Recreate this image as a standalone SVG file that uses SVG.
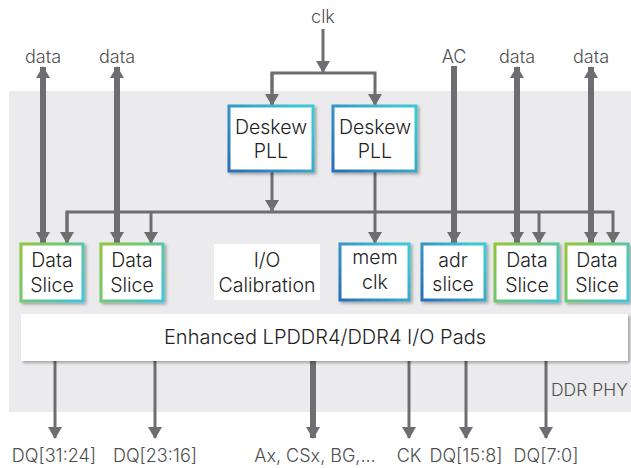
<svg xmlns="http://www.w3.org/2000/svg" width="631" height="468" viewBox="0 0 631 468">
<style>
.t{font-family:Inter,"Noto Sans","Liberation Sans",sans-serif;font-size:19.5px;font-weight:300;fill:#222;text-anchor:middle}
.lbl{font-family:Inter,"Noto Sans","Liberation Sans",sans-serif;font-size:18px;font-weight:300;fill:#4d4e50;text-anchor:middle}
.thin{stroke:#6d6e71;stroke-width:3;fill:none}
.thick{stroke:#6d6e71;stroke-width:6;fill:none}
.box{fill:#fff;stroke-width:3}
.b{stroke:url(#gb)}
.g{stroke:url(#gg)}
</style>
<defs>
<linearGradient id="gb" x1="0" y1="1" x2="1" y2="0.3">
<stop offset="0" stop-color="#2a6db7"/><stop offset="1" stop-color="#3ec6d3"/>
</linearGradient>
<linearGradient id="gg" x1="0" y1="0.2" x2="1" y2="0.8">
<stop offset="0" stop-color="#8dc63f"/><stop offset="1" stop-color="#3ec6d3"/>
</linearGradient>
<filter id="sh" x="-20%" y="-20%" width="150%" height="150%">
<feDropShadow dx="2" dy="2" stdDeviation="1.5" flood-color="#000" flood-opacity="0.3"/>
</filter>
<marker id="ah" markerUnits="userSpaceOnUse" markerWidth="14" markerHeight="14" viewBox="0 -7 12 14" refX="11" refY="0" orient="auto-start-reverse">
<path d="M0,-7 L12,0 L0,7 z" fill="#6d6e71"/>
</marker>
</defs>
<rect x="9" y="91" width="622" height="321" fill="#ebebed"/>
<text class="lbl" x="551" y="396" style="text-anchor:start;font-size:17.5px">DDR PHY</text>

<g id="connectors">
<path class="thin" d="M323,29 V72" marker-end="url(#ah)"/>
<path class="thin" d="M272,105 V73 H375 V105" marker-end="url(#ah)"/>
<path class="thin" d="M272,73 V105" marker-end="url(#ah)"/>
<path class="thin" d="M272,171 V211" marker-end="url(#ah)"/>
<path class="thin" d="M67,243 V212 H613 V243" marker-end="url(#ah)"/>
<path class="thin" d="M67,212 V243" marker-end="url(#ah)"/>
<path class="thin" d="M151,212 V243" marker-end="url(#ah)"/>
<path class="thin" d="M539,212 V243" marker-end="url(#ah)"/>
<path class="thin" d="M375,171 V243" marker-end="url(#ah)"/>
<path class="thick" d="M43,67 V243" marker-start="url(#ah)" marker-end="url(#ah)"/>
<path class="thick" d="M117,67 V243" marker-start="url(#ah)" marker-end="url(#ah)"/>
<path class="thick" d="M517,67 V243" marker-start="url(#ah)" marker-end="url(#ah)"/>
<path class="thick" d="M591,67 V243" marker-start="url(#ah)" marker-end="url(#ah)"/>
<path class="thick" d="M454,66 V243" marker-end="url(#ah)"/>
<path class="thin" d="M55,361 V438" marker-end="url(#ah)"/>
<path class="thin" d="M155,361 V438" marker-end="url(#ah)"/>
<path class="thick" d="M313,361 V438" marker-end="url(#ah)"/>
<path class="thin" d="M409,361 V438" marker-end="url(#ah)"/>
<path class="thin" d="M466,361 V438" marker-end="url(#ah)"/>
<path class="thin" d="M546,361 V438" marker-end="url(#ah)"/>
</g>

<g id="labels">
<text class="lbl" x="323" y="23">clk</text>
<text class="lbl" x="43" y="63">data</text>
<text class="lbl" x="117" y="63">data</text>
<text class="lbl" x="454" y="63">AC</text>
<text class="lbl" x="517" y="63">data</text>
<text class="lbl" x="591" y="63">data</text>
<text class="lbl" x="54" y="462">DQ[31:24]</text>
<text class="lbl" x="155" y="462">DQ[23:16]</text>
<text class="lbl" x="315" y="462">Ax, CSx, BG,...</text>
<text class="lbl" x="409" y="462">CK</text>
<text class="lbl" x="466" y="462">DQ[15:8]</text>
<text class="lbl" x="546" y="462">DQ[7:0]</text>
</g>

<g id="pll1"><rect class="box b" x="229" y="106" width="84" height="65" filter="url(#sh)"/><text class="t" x="271" y="134">Deskew</text><text class="t" x="271" y="158">PLL</text></g>
<g id="pll2"><rect class="box b" x="333" y="106" width="83" height="65" filter="url(#sh)"/><text class="t" x="375" y="134">Deskew</text><text class="t" x="375" y="158">PLL</text></g>

<g id="slice1"><rect class="box g" x="21" y="244" width="62" height="57" filter="url(#sh)"/><text class="t" x="52" y="267">Data</text><text class="t" x="52" y="292">Slice</text></g>
<g id="slice2"><rect class="box g" x="101" y="244" width="62" height="57" filter="url(#sh)"/><text class="t" x="132" y="267">Data</text><text class="t" x="132" y="292">Slice</text></g>
<g id="iocal"><rect x="214" y="244" width="106" height="56" fill="#fff"/><text class="t" x="267" y="267">I/O</text><text class="t" x="267" y="292">Calibration</text></g>
<g id="memclk"><rect class="box b" x="340" y="244" width="69" height="56" filter="url(#sh)"/><text class="t" x="375" y="264">mem</text><text class="t" x="375" y="289">clk</text></g>
<g id="adrslice"><rect class="box b" x="422" y="244" width="63" height="56" filter="url(#sh)"/><text class="t" x="453" y="267">adr</text><text class="t" x="453" y="291">slice</text></g>
<g id="slice3"><rect class="box g" x="495" y="244" width="63" height="57" filter="url(#sh)"/><text class="t" x="527" y="267">Data</text><text class="t" x="527" y="292">Slice</text></g>
<g id="slice4"><rect class="box g" x="566" y="244" width="62" height="57" filter="url(#sh)"/><text class="t" x="597" y="267">Data</text><text class="t" x="597" y="292">Slice</text></g>

<g id="pads"><rect x="21" y="314" width="607" height="47" fill="#fff" filter="url(#sh)"/><text class="t" x="325" y="344" style="font-size:20px">Enhanced LPDDR4/DDR4 I/O Pads</text></g>
</svg>
